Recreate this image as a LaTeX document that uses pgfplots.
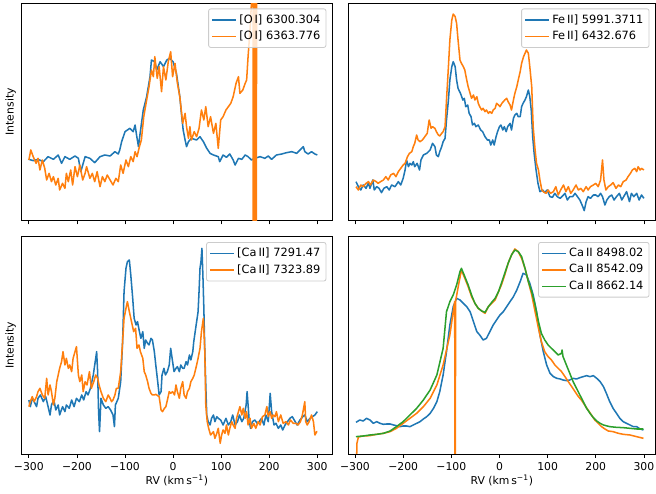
\documentclass[border=0pt]{standalone}
\usepackage{fontspec}
\setmainfont{DejaVu Sans}
\usepackage{pgfplots}
\pgfplotsset{compat=1.18}
\definecolor{tabblue}{HTML}{1F77B4}
\definecolor{taborange}{HTML}{FF7F0E}
\definecolor{tabgreen}{HTML}{2CA02C}
\newcommand{\fs}{\fontsize{7.8}{9}\selectfont}
\newcommand{\lfs}{\fontsize{8.2}{9.5}\selectfont}
\pgfplotsset{
  panel/.style={
    scale only axis, anchor=south west,
    axis line style={line width=0.6pt},
    tick style={black, line width=0.6pt},
    tick align=outside, major tick length=2.7pt,
    xtick={-300,-200,-100,0,100,200,300},
    ytick=\empty, xtick pos=left,
    tick label style={font=\fs},
    legend cell align=left,
    legend image code/.code={\draw[#1, line width=1.1pt, opacity=1] (0pt,0pt) -- (17pt,0pt);},
    legend style={at={(0.982,0.975)}, anchor=north east, draw=black!20,
      rounded corners=1.5pt, fill=white, fill opacity=0.8, text opacity=1,
      font=\lfs, inner sep=2pt, row sep=0.3pt, line width=0.6pt},
    every axis plot/.append style={line width=1.1pt, line join=round, mark=none},
    every axis y label/.style={at={(axis description cs:-0.018,0.5)}, rotate=90, anchor=south, inner sep=0pt, font=\fs},
  },
  leftcol/.style={xmin=-315, xmax=330.5, width=223.4pt},
  rightcol/.style={xmin=-313, xmax=323, width=220.5pt},
  toprow/.style={ymin=38, ymax=691, height=156.7pt, xticklabels={}},
  botrow/.style={ymin=13, ymax=665, height=156.5pt,
    xticklabels={\mbox{−300},\mbox{−200},\mbox{−100},\mbox{0},\mbox{100},\mbox{200},\mbox{300}},
    xlabel={RV (km\,s\textsuperscript{−1})},
    every axis x label/.style={at={(axis description cs:0.5,0)}, anchor=north, yshift=-15pt, inner sep=0pt, font=\fs}},
}
\begin{document}
\begin{tikzpicture}
\path[use as bounding box] (0,0) rectangle (472.32pt,355.68pt);
% ---------- top left: [O I]
\begin{axis}[panel, leftcol, toprow, at={(15.6pt,196.8pt)}, ylabel={Intensity}]
\addplot[tabblue] coordinates {
(-300,222) (-291,218) (-281,222) (-270,215) (-260,230) (-249,222) (-239,235) (-232,210) (-225,230) (-215,222)
(-204,232) (-197,225) (-192,185) (-183,230) (-173,225) (-163,212) (-152,230) (-142,235) (-131,232) (-121,245)
(-114,238) (-111,250) (-107,275) (-100,305) (-90,315) (-83,305) (-79,325) (-76,295) (-72,260) (-69,295)
(-62,370) (-55,410) (-48,470) (-45,520) (-38,515) (-34,490) (-27,515) (-20,500) (-13,520) (-7,525)
(0,515) (7,480) (14,410) (18,350) (21,310) (25,280) (28,260) (32,275) (38,285) (49,280)
(56,290) (63,275) (70,255) (77,240) (84,235) (94,230) (97,215) (104,235) (111,228) (118,238)
(125,220) (129,205) (136,225) (143,222) (150,235) (156,230) (163,220) (170,225) (181,230) (191,225)
(198,232) (205,222) (215,235) (226,238) (236,242) (247,245) (257,240) (264,250) (271,260) (274,245)
(281,238) (288,245) (295,238) (300,235)
};
\addlegendentry{[O\,I] 6300.304}
\addplot[taborange] coordinates {
(-300,220) (-296,250) (-291,230) (-285,210) (-281,225) (-277,190) (-272,220) (-267,195) (-263,160) (-258,180)
(-253,155) (-249,170) (-244,145) (-239,165) (-236,130) (-230,150) (-225,135) (-222,180) (-218,155) (-213,190)
(-209,145) (-204,200) (-199,170) (-194,205) (-188,160) (-183,180) (-180,200) (-173,165) (-168,180) (-163,155)
(-158,185) (-152,140) (-147,170) (-142,155) (-137,175) (-131,160) (-125,145) (-119,165) (-114,155) (-109,205)
(-104,180) (-98,220) (-93,200) (-88,230) (-83,215) (-79,245) (-75,230) (-70,260) (-66,280) (-61,350)
(-55,400) (-50,440) (-45,490) (-41,470) (-38,530) (-33,465) (-29,500) (-24,425) (-20,500) (-15,460)
(-10,515) (-5,545) (-1,470) (4,510) (9,450) (14,410) (20,330) (25,360) (28,320) (32,285)
(35,320) (38,280) (44,305) (49,290) (54,315) (59,370) (64,340) (68,380) (73,320) (78,350)
(84,300) (89,330) (94,255) (99,340) (104,350) (110,370) (115,380) (120,390) (125,410) (131,450)
(136,470) (139,420) (145,430) (150,450) (153,460) (156,530) (160,610) (163,690) (165,800)
(166,1200) (167,-300) (168,1200) (169,-300) (170,1200) (171,-300) (172,1200) (173,-300) (174,1200) (176,800) (300,800)
};
\addlegendentry{[O\,I] 6363.776}
\end{axis}
% ---------- top right: Fe II
\begin{axis}[panel, rightcol, toprow, at={(251.1pt,196.8pt)}]
\addplot[tabblue] coordinates {
(-298,155) (-293,140) (-288,130) (-283,145) (-277,135) (-272,152) (-269,135) (-263,160) (-260,130) (-255,140)
(-250,135) (-245,122) (-240,135) (-234,140) (-229,130) (-224,145) (-217,140) (-210,155) (-205,145) (-200,165)
(-196,190) (-193,220) (-189,200) (-186,210) (-182,205) (-179,215) (-176,200) (-171,210) (-166,190) (-163,220)
(-158,235) (-151,240) (-144,250) (-139,270) (-134,260) (-131,235) (-127,230) (-124,245) (-120,260) (-117,275)
(-113,285) (-110,340) (-106,400) (-103,460) (-99,500) (-96,515) (-92,500) (-89,460) (-86,435) (-81,420)
(-76,400) (-73,405) (-70,380) (-66,385) (-63,360) (-59,350) (-56,325) (-52,330) (-49,320) (-44,325)
(-39,310) (-35,305) (-30,290) (-25,280) (-21,280) (-18,265) (-14,280) (-11,265) (-7,290) (-4,305)
(0,320) (3,325) (7,310) (10,320) (14,305) (17,320) (22,330) (25,310) (29,345) (32,355)
(36,360) (39,350) (43,350) (46,380) (49,390) (53,400) (56,410) (60,430) (63,410) (66,370)
(69,290) (72,240) (76,190) (80,150) (84,125) (90,130) (94,122) (99,130) (105,110) (110,108)
(115,120) (120,110) (126,105) (131,112) (136,120) (141,100) (146,110) (152,110) (157,120) (162,110)
(167,100) (173,80) (176,68) (180,95) (184,110) (189,105) (195,115) (200,115) (205,110) (210,120)
(214,110) (219,85) (223,100) (228,110) (233,115) (238,100) (243,110) (249,120) (254,100) (258,110)
(264,125) (270,95) (274,120) (279,110) (285,120) (290,100) (295,115) (300,105)
};
\addlegendentry{Fe\,II] 5991.3711}
\addplot[taborange] coordinates {
(-298,140) (-293,130) (-288,145) (-283,140) (-277,150) (-272,155) (-268,145) (-262,160) (-256,155) (-252,150)
(-247,155) (-241,160) (-236,170) (-231,160) (-226,175) (-220,180) (-215,170) (-210,185) (-205,195) (-200,205)
(-196,210) (-191,230) (-187,240) (-182,245) (-179,260) (-176,270) (-172,295) (-169,280) (-165,275) (-160,280)
(-155,290) (-150,300) (-146,340) (-142,315) (-139,320) (-134,315) (-131,305) (-127,295) (-124,292) (-120,300)
(-117,305) (-113,320) (-110,400) (-106,500) (-103,580) (-99,640) (-96,658) (-92,650) (-89,630) (-86,580)
(-82,520) (-79,510) (-75,500) (-72,490) (-68,460) (-65,440) (-61,420) (-58,405) (-54,415) (-51,400)
(-47,410) (-44,390) (-41,380) (-37,370) (-34,375) (-30,365) (-27,370) (-23,360) (-20,365) (-16,360)
(-13,370) (-9,375) (-6,390) (-2,385) (1,380) (5,390) (8,395) (11,400) (15,405) (18,395)
(22,385) (25,370) (29,400) (32,420) (36,440) (39,460) (43,485) (46,510) (50,530) (53,540)
(56,550) (60,540) (63,500) (67,440) (70,320) (74,250) (77,210) (81,190) (84,160) (88,130)
(91,125) (97,120) (101,130) (106,120) (112,125) (117,140) (122,115) (127,130) (133,145) (138,125)
(143,140) (148,120) (153,130) (159,145) (164,130) (169,135) (174,125) (180,140) (184,130) (189,140)
(195,145) (200,150) (205,140) (210,160) (214,220) (217,160) (221,130) (226,140) (231,145) (236,152)
(242,135) (247,145) (252,140) (257,155) (263,160) (267,170) (272,180) (276,190) (281,195) (285,185)
(288,200) (292,190) (295,195) (300,190)
};
\addlegendentry{Fe\,II] 6432.676}
\end{axis}
% ---------- bottom left: [Ca II]
\begin{axis}[panel, leftcol, botrow, at={(15.6pt,28.8pt)}, ylabel={Intensity}]
\addplot[tabblue] coordinates {
(-300,175) (-297,155) (-293,180) (-289,170) (-284,155) (-281,180) (-276,190) (-270,170) (-265,185) (-260,155)
(-256,130) (-253,160) (-248,175) (-244,145) (-239,160) (-236,130) (-230,155) (-225,140) (-222,160) (-216,150)
(-211,175) (-206,155) (-201,180) (-195,170) (-190,190) (-186,175) (-181,200) (-177,190) (-172,210) (-166,250)
(-163,280) (-159,320) (-157,260) (-155,140) (-153,80) (-150,180) (-145,160) (-140,150) (-135,155) (-130,145)
(-125,130) (-122,95) (-120,160) (-114,180) (-109,230) (-105,350) (-102,500) (-98,570) (-95,590) (-91,595)
(-88,550) (-84,480) (-81,420) (-77,400) (-74,410) (-70,380) (-67,360) (-63,380) (-60,330) (-57,355)
(-53,345) (-50,340) (-46,360) (-43,355) (-39,320) (-36,280) (-32,230) (-29,190) (-25,200) (-23,250)
(-19,270) (-16,250) (-12,260) (-8,280) (-5,330) (-2,300) (2,260) (6,270) (9,275) (13,260)
(16,280) (20,270) (23,270) (27,290) (30,280) (34,310) (37,295) (41,320) (43,350) (46,380)
(49,410) (52,440) (54,500) (56,570) (58,590) (60,630) (62,550) (64,450) (66,320) (68,220)
(70,130) (73,110) (77,100) (80,120) (84,130) (87,110) (91,125) (94,120) (99,115) (104,100)
(110,120) (115,100) (120,110) (124,130) (129,100) (134,110) (138,130) (143,110) (147,120) (152,160)
(154,200) (158,120) (161,90) (165,110) (170,115) (175,105) (179,110) (184,120) (189,100) (193,130)
(198,110) (202,195) (205,140) (210,100) (214,105) (219,90) (224,100) (228,85) (233,100) (238,110)
(243,120) (248,125) (254,110) (258,100) (264,115) (270,125) (274,130) (279,110) (285,120) (290,125)
(295,130) (300,140)
};
\addlegendentry{[Ca\,II] 7291.47}
\addplot[taborange] coordinates {
(-300,155) (-297,170) (-293,185) (-289,170) (-284,185) (-281,200) (-277,210) (-272,190) (-267,180) (-263,240)
(-260,190) (-256,220) (-253,200) (-249,160) (-246,180) (-242,230) (-239,250) (-236,270) (-232,290) (-229,320)
(-225,280) (-222,300) (-218,270) (-215,280) (-211,260) (-208,300) (-204,320) (-201,335) (-197,250) (-194,230)
(-190,250) (-187,200) (-183,230) (-179,220) (-174,260) (-170,210) (-165,230) (-161,250) (-157,240) (-154,220)
(-150,200) (-145,180) (-140,170) (-135,190) (-131,180) (-128,170) (-125,175) (-121,190) (-118,210) (-114,210)
(-109,260) (-105,350) (-102,420) (-98,450) (-95,470) (-91,440) (-88,420) (-85,400) (-82,380) (-78,390)
(-75,330) (-71,340) (-68,320) (-63,300) (-60,260) (-57,250) (-53,230) (-50,210) (-46,195) (-43,190)
(-39,190) (-36,192) (-32,188) (-29,185) (-25,145) (-22,140) (-18,150) (-15,155) (-11,180) (-8,200)
(-5,195) (-1,200) (3,190) (6,220) (9,200) (13,180) (16,210) (20,230) (23,190) (27,180)
(30,200) (34,210) (37,230) (41,240) (44,250) (49,280) (52,300) (56,330) (59,380) (63,420)
(66,320) (68,160) (71,110) (74,90) (78,70) (84,80) (87,60) (91,75) (94,90) (98,45)
(101,70) (104,85) (108,75) (111,100) (115,70) (118,90) (122,110) (125,100) (129,90) (132,120)
(136,140) (139,155) (143,130) (146,150) (150,120) (153,140) (156,100) (160,120) (163,90) (168,105)
(172,90) (177,110) (181,100) (186,125) (191,130) (195,155) (198,125) (202,140) (205,120) (208,130)
(212,125) (215,140) (219,110) (224,130) (229,105) (235,110) (240,100) (244,115) (250,105) (256,105)
(260,100) (265,110) (269,130) (274,170) (276,110) (279,100) (283,110) (288,130) (292,110) (295,70)
(299,80) (300,80)
};
\addlegendentry{[Ca\,II] 7323.89}
\end{axis}
% ---------- bottom right: Ca II triplet
\begin{axis}[panel, rightcol, botrow, at={(251.1pt,28.8pt)}]
\addplot[tabblue] coordinates {
(-298,108) (-290,115) (-283,112) (-276,120) (-269,115) (-262,105) (-255,110) (-248,105) (-241,102) (-234,103)
(-227,103) (-220,100) (-214,98) (-207,95) (-200,97) (-193,97) (-186,95) (-179,100) (-172,105) (-165,110)
(-158,118) (-151,125) (-144,135) (-137,150) (-130,170) (-124,200) (-117,250) (-110,320) (-103,400) (-96,455)
(-89,480) (-82,475) (-75,465) (-68,455) (-61,440) (-54,410) (-47,380) (-41,370) (-34,355) (-27,360)
(-20,380) (-13,400) (-6,415) (1,430) (8,440) (15,455) (22,470) (29,485) (36,505) (43,530)
(49,555) (56,550) (63,525) (70,490) (77,440) (84,370) (91,320) (98,280) (105,255) (112,245)
(119,240) (126,238) (132,235) (139,233) (146,235) (153,240) (160,238) (167,242) (174,245) (181,248)
(188,245) (195,248) (202,240) (209,230) (216,215) (222,195) (229,170) (236,150) (243,135) (250,120)
(257,110) (264,105) (271,100) (278,95) (285,95) (292,88) (299,85)
};
\addlegendentry{Ca\,II 8498.02}
\addplot[taborange] coordinates {
(-298,-100) (-296,45) (-293,64) (-283,67) (-269,68) (-255,72) (-241,75) (-227,80) (-214,90) (-200,105)
(-186,120) (-172,135) (-158,155) (-144,180) (-130,220) (-117,280) (-103,370) (-96,440) (-93,470) (-92,-200)
(-91,475) (-90,480) (-85,520) (-79,565) (-72,540) (-65,515) (-58,485) (-51,465) (-44,450) (-37,442)
(-30,435) (-23,455) (-16,465) (-9,475) (-2,500) (4,520) (11,550) (18,585) (25,610) (32,628)
(39,620) (46,600) (53,570) (60,530) (67,490) (74,440) (81,390) (87,350) (94,320) (101,305)
(108,295) (115,280) (122,270) (129,260) (136,245) (143,230) (150,215) (157,200) (164,185) (170,175)
(177,160) (184,145) (191,130) (198,115) (205,105) (212,95) (219,88) (226,82) (236,80) (247,75)
(257,72) (271,70) (285,65) (299,60)
};
\addlegendentry{Ca\,II 8542.09}
\addplot[tabgreen] coordinates {
(-298,65) (-283,67) (-269,70) (-255,72) (-241,75) (-227,82) (-214,95) (-200,110) (-186,130) (-172,150)
(-158,175) (-144,205) (-130,250) (-117,330) (-110,440) (-103,470) (-96,490) (-89,520) (-82,560) (-79,570)
(-72,545) (-65,520) (-58,490) (-51,465) (-44,450) (-37,442) (-30,438) (-23,455) (-16,468) (-9,480)
(-2,500) (4,525) (11,555) (18,585) (25,610) (32,625) (39,620) (46,605) (53,570) (60,530)
(67,500) (74,460) (81,410) (87,375) (94,355) (101,340) (108,330) (115,320) (122,310) (129,315)
(130,325) (132,305) (139,280) (146,255) (153,230) (160,210) (167,190) (174,170) (181,150) (188,135)
(195,122) (202,112) (209,105) (216,100) (229,95) (243,93) (257,92) (271,90) (285,88) (299,88)
};
\addlegendentry{Ca\,II 8662.14}
\end{axis}
\end{tikzpicture}
\end{document}
